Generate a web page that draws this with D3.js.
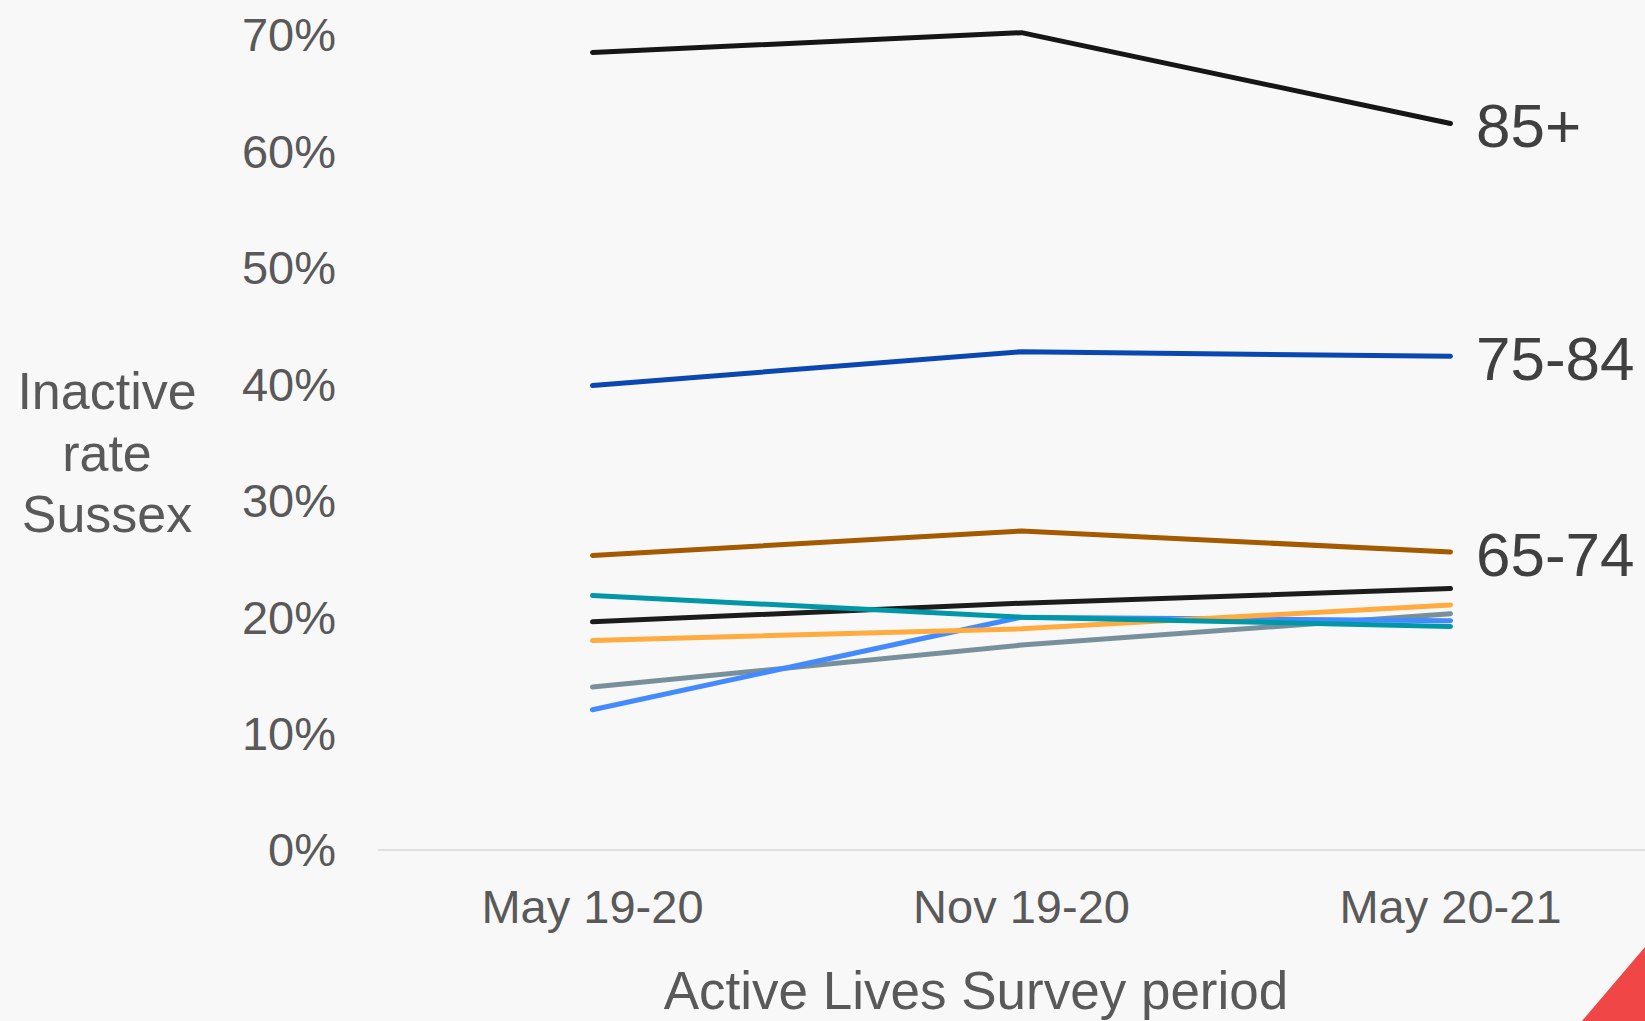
<!DOCTYPE html>
<html>
<head>
<meta charset="utf-8">
<script src="https://cdn.jsdelivr.net/npm/d3@7"></script>
<style>
  html, body { margin: 0; padding: 0; background: #f8f8f8; }
  svg { display: block; font-family: "Liberation Sans", Arial, sans-serif; }
</style>
</head>
<body>
<div id="chart"></div>
<script>
var periods = ['May 19-20', 'Nov 19-20', 'May 20-21'];
var yTicks = [0, 10, 20, 30, 40, 50, 60, 70];

// inactive rate (%) per age group, one value per period
var age85plus = [68.5, 70.2, 62.4];
var age75to84 = [39.9, 42.8, 42.4];
var age65to74 = [25.3, 27.4, 25.6];
var ageGroupA = [19.6, 21.2, 22.45];
var ageGroupB = [14.0, 17.6, 20.3];
var ageGroupC = [12.05, 20.0, 19.7];
var ageGroupD = [18.0, 19.0, 21.05];
var ageGroupE = [21.85, 20.0, 19.2];

var series = [
  { name: '85+', values: age85plus, color: '#161616', label: true },
  { name: '75-84', values: age75to84, color: '#0b47b0', label: true },
  { name: '65-74', values: age65to74, color: '#a35a00', label: true },
  { name: 'A', values: ageGroupA, color: '#1c1c1c', label: false },
  { name: 'B', values: ageGroupB, color: '#78909c', label: false },
  { name: 'C', values: ageGroupC, color: '#448aff', label: false },
  { name: 'D', values: ageGroupD, color: '#ffab40', label: false },
  { name: 'E', values: ageGroupE, color: '#0097a7', label: false }
];

var width = 1645, height = 1021;

var svg = d3.select('#chart')
  .append('svg')
  .attr('width', width)
  .attr('height', height);

svg.append('rect')
  .attr('width', width)
  .attr('height', height)
  .attr('fill', '#f8f8f8');

var x = d3.scaleBand()
  .domain(periods)
  .range([378, 1665]);

var y = d3.scaleLinear()
  .domain([0, 70])
  .range([850, 35]);

// baseline
svg.append('line')
  .attr('x1', 378)
  .attr('x2', width)
  .attr('y1', y(0))
  .attr('y2', y(0))
  .attr('stroke', '#d9d9d9')
  .attr('stroke-width', 1.5);

// y tick labels
svg.selectAll('.ytick')
  .data(yTicks)
  .enter()
  .append('text')
  .attr('class', 'ytick')
  .attr('x', 336)
  .attr('y', function (d) { return y(d); })
  .attr('dy', '0.35em')
  .attr('text-anchor', 'end')
  .attr('font-size', 47)
  .attr('fill', '#595959')
  .text(function (d) { return d + '%'; });

// x tick labels
svg.selectAll('.xtick')
  .data(periods)
  .enter()
  .append('text')
  .attr('class', 'xtick')
  .attr('x', function (d) { return x(d) + x.bandwidth() / 2; })
  .attr('y', 923)
  .attr('text-anchor', 'middle')
  .attr('font-size', 47)
  .attr('fill', '#595959')
  .text(function (d) { return d; });

// axis titles
svg.append('text')
  .attr('x', 976)
  .attr('y', 1009)
  .attr('text-anchor', 'middle')
  .attr('font-size', 53)
  .attr('fill', '#595959')
  .text('Active Lives Survey period');

svg.append('text')
  .attr('text-anchor', 'middle')
  .attr('font-size', 52)
  .attr('fill', '#595959')
  .selectAll('tspan')
  .data(['Inactive', 'rate', 'Sussex'])
  .enter()
  .append('tspan')
  .attr('x', 107)
  .attr('y', function (d, i) { return 409 + i * 61.5; })
  .text(function (d) { return d; });

var line = d3.line()
  .x(function (d, i) { return x(periods[i]) + x.bandwidth() / 2; })
  .y(function (d) { return y(d); });

svg.selectAll('.series')
  .data(series)
  .enter()
  .append('path')
  .attr('class', 'series')
  .attr('d', function (d) { return line(d.values); })
  .attr('fill', 'none')
  .attr('stroke', function (d) { return d.color; })
  .attr('stroke-width', 5)
  .attr('stroke-linecap', 'round')
  .attr('stroke-linejoin', 'round');

svg.selectAll('.end-label')
  .data(series.filter(function (d) { return d.label; }))
  .enter()
  .append('text')
  .attr('class', 'end-label')
  .attr('x', 1476)
  .attr('y', function (d) { return y(d.values[d.values.length - 1]) + 24; })
  .attr('font-size', 62)
  .attr('fill', '#404040')
  .text(function (d) { return d.name; });

// corner decoration
svg.append('path')
  .attr('d', 'M1645,947 L1645,1021 L1582,1021 Z')
  .attr('fill', '#f04646');
</script>
</body>
</html>
